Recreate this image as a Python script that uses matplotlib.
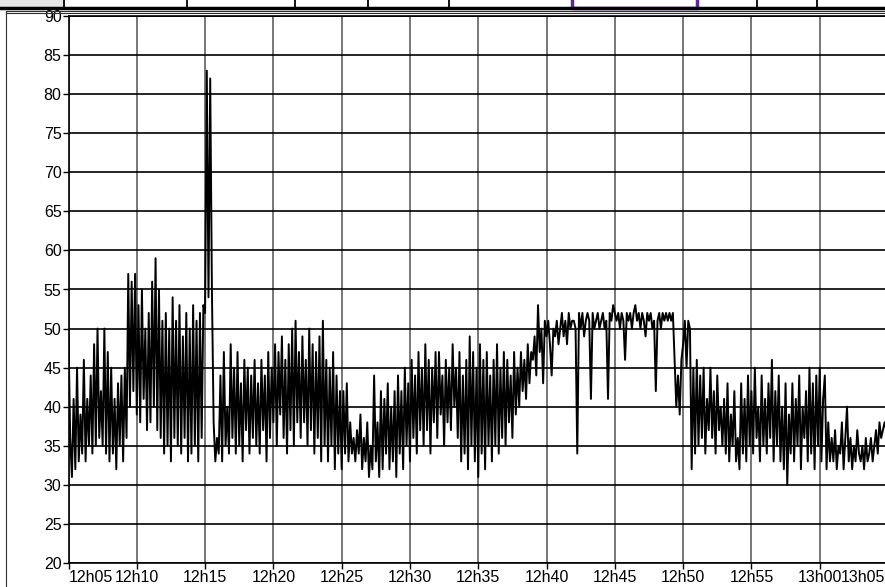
import numpy as np
import matplotlib
matplotlib.use('Agg')
import matplotlib.pyplot as plt
from matplotlib.patches import Rectangle
from matplotlib.lines import Line2D

# sound level readings, 8 samples per minute, one row per minute from 12h05
levels = [
    [49, 36, 31, 41, 32, 45, 33, 39],  # 12h05
    [34, 46, 33, 41, 35, 44, 34, 48],
    [35, 50, 36, 42, 35, 50, 34, 47],
    [33, 45, 34, 41, 32, 43, 35, 44],
    [33, 45, 36, 57, 40, 56, 42, 57],
    [39, 53, 38, 55, 41, 50, 37, 52],  # 12h10
    [38, 56, 40, 59, 37, 55, 36, 51],
    [34, 52, 35, 50, 33, 54, 36, 51],
    [35, 53, 34, 49, 36, 52, 33, 50],
    [34, 53, 35, 51, 33, 52, 36, 53],
    [52, 83, 54, 82, 55, 38, 33, 36],  # 12h15
    [34, 44, 33, 47, 35, 40, 34, 48],
    [36, 45, 34, 47, 35, 43, 33, 46],
    [37, 45, 34, 44, 36, 46, 35, 43],
    [34, 46, 37, 44, 33, 47, 36, 45],
    [38, 48, 35, 47, 39, 49, 36, 46],  # 12h20
    [34, 48, 37, 50, 35, 51, 38, 47],
    [36, 49, 38, 46, 35, 50, 37, 48],
    [34, 47, 36, 49, 33, 51, 35, 46],
    [33, 45, 35, 47, 32, 44, 34, 42],
    [32, 42, 34, 43, 33, 38, 34, 36],  # 12h25
    [33, 37, 34, 39, 32, 36, 33, 38],
    [31, 35, 32, 44, 33, 38, 31, 42],
    [32, 41, 34, 43, 32, 40, 33, 42],
    [31, 44, 34, 42, 32, 45, 35, 43],
    [33, 46, 36, 44, 34, 47, 37, 45],  # 12h30
    [35, 48, 37, 46, 34, 45, 38, 47],
    [36, 47, 39, 44, 35, 46, 38, 45],
    [37, 48, 40, 45, 36, 47, 33, 44],
    [34, 46, 32, 49, 35, 47, 33, 45],
    [31, 48, 34, 46, 32, 47, 35, 44],  # 12h35
    [33, 46, 35, 48, 34, 45, 36, 47],
    [35, 46, 38, 44, 36, 47, 39, 45],
    [40, 47, 42, 46, 41, 48, 43, 47],
    [46, 49, 44, 53, 47, 50, 43, 51],
    [49, 51, 48, 44, 50, 49, 51, 48],  # 12h40
    [50, 52, 49, 51, 48, 52, 50, 51],
    [51, 50, 34, 52, 50, 52, 49, 51],
    [52, 51, 41, 52, 50, 51, 52, 50],
    [51, 52, 50, 51, 41, 52, 51, 53],
    [52, 51, 52, 50, 52, 51, 46, 52],  # 12h45
    [51, 52, 50, 52, 53, 51, 52, 50],
    [52, 51, 49, 52, 51, 52, 50, 51],
    [42, 51, 52, 50, 52, 51, 52, 51],
    [52, 51, 52, 46, 40, 44, 39, 46],
    [48, 51, 45, 51, 50, 32, 45, 34],  # 12h50
    [46, 35, 44, 36, 45, 34, 41, 37],
    [45, 36, 42, 34, 44, 37, 40, 35],
    [41, 34, 43, 33, 39, 35, 42, 33],
    [36, 32, 43, 34, 41, 33, 44, 35],
    [42, 34, 45, 36, 40, 33, 44, 35],  # 12h55
    [41, 34, 43, 36, 46, 33, 42, 35],
    [44, 33, 40, 32, 43, 30, 39, 34],
    [43, 33, 41, 35, 44, 32, 40, 36],
    [42, 33, 45, 34, 43, 32, 44, 35],
    [45, 33, 41, 44, 32, 38, 33, 36],  # 13h00
    [33, 37, 32, 35, 34, 38, 32, 36],
    [40, 33, 36, 32, 35, 33, 37, 34],
    [33, 35, 32, 36, 33, 34, 36, 33],
    [35, 37, 34, 38, 36, 37, 38, 37],
]
samples_per_min = 8
tick_minutes = [0, 5, 10, 15, 20, 25, 30, 35, 40, 45, 50, 55]
tick_labels = ['12h05', '12h10', '12h15', '12h20', '12h25', '12h30', '12h35',
               '12h40', '12h45', '12h50', '12h55', '13h00']
last_label = '13h05'
y_ticks = list(range(20, 95, 5))

vals = np.array(levels, dtype=float).ravel()
t = np.arange(len(vals)) / samples_per_min

plt.rcParams['font.family'] = ['Liberation Sans', 'DejaVu Sans']

W, H = 885, 587
fig = plt.figure(figsize=(W / 100, H / 100), dpi=100)

def px(x, y):
    return x / W, 1 - y / H

# axes: left edge x=68.5, top y=16, bottom y=563, 13h05 at x=888
l, b = 68.5 / W, (H - 563) / H
ax = fig.add_axes([l, b, (888 - 68.5) / W, (563 - 16) / H])
ax.plot(t, vals, color='black', lw=1.4)
ax.set_xlim(0, 60)
ax.set_ylim(20, 90)
ax.set_yticks(y_ticks)
ax.set_xticks(tick_minutes)
ax.set_xticklabels(tick_labels)
ax.tick_params(axis='both', labelsize=11.5, length=4, width=1, colors='black', pad=1)
ax.get_xticklabels()[0].set_ha('left')
ax.annotate(last_label, xy=(60, 0), xycoords=ax.get_xaxis_transform(),
            xytext=(-2, -5), textcoords='offset points', ha='right', va='top',
            fontsize=11.5, annotation_clip=False)
ax.yaxis.grid(True, color='black', lw=1.2)
ax.xaxis.grid(True, color='#606060', lw=1.2)
ax.set_axisbelow(True)
for s in ax.spines.values():
    s.set_color('black')
    s.set_linewidth(1.2)

# screenshot frame and header strip above the chart
fig.patches.append(Rectangle(px(0, 7), 63 / W, 7 / H, transform=fig.transFigure,
                             facecolor='#e6e6e6', edgecolor='none'))
for xd in [64, 187, 295, 368, 449, 757, 817]:
    fig.lines.append(Line2D([xd / W, xd / W], [1, 1 - 7 / H], transform=fig.transFigure,
                            color='black', lw=1.3))
fig.lines.append(Line2D([0, 1], [1 - 7.5 / H] * 2, transform=fig.transFigure,
                        color='black', lw=2.5))
fig.patches.append(Rectangle(px(572, 8), (697 - 572) / W, 10 / H, transform=fig.transFigure,
                             facecolor='none', edgecolor='#5a2d91', lw=2.5))
for yd in [11, 13]:
    fig.lines.append(Line2D([6 / W, 1], [1 - yd / H] * 2, transform=fig.transFigure,
                            color='#303030', lw=0.8))
fig.lines.append(Line2D([6 / W] * 2, [0, 1 - 11 / H], transform=fig.transFigure,
                        color='#303030', lw=0.8))

fig.savefig('out.png', dpi=100)
